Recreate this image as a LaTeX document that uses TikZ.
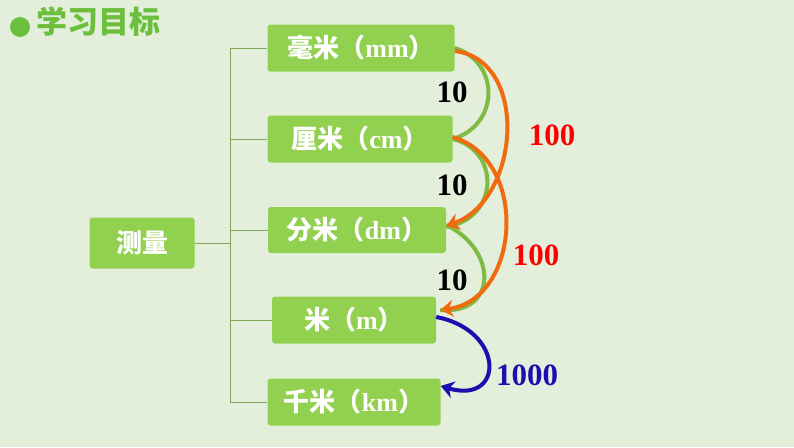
\documentclass[tikz,border=0pt]{standalone}
\usepackage{fontspec}
\setmainfont{Liberation Serif}
\newfontfamily\cjk{Noto Sans CJK SC}
\usetikzlibrary{arrows.meta}
\definecolor{bggreen}{HTML}{E3EFDA}
\definecolor{boxgreen}{HTML}{92D050}
\definecolor{titlegreen}{HTML}{6CBF3C}
\definecolor{arcgreen}{HTML}{7DBB45}
\definecolor{arcorange}{HTML}{F06A10}
\definecolor{arcblue}{HTML}{1A10B0}
\newcommand{\cn}[1]{{\cjk #1}}
\tikzset{
  unitbox/.style={fill=boxgreen, rounded corners=3pt, text=white, font=\bfseries\fontsize{26}{28}\selectfont, inner sep=0pt},
  num/.style={font=\bfseries\fontsize{31}{32}\selectfont},
  branch/.style={draw=arcgreen!70!gray, line width=0.6pt},
  greenarc/.style={draw=arcgreen, line width=4pt},
  orangearc/.style={draw=arcorange, line width=4pt, -{Stealth[length=13pt,width=17pt]}},
  bluearc/.style={draw=arcblue, line width=4pt, -{Stealth[length=13pt,width=17pt]}}
}
\begin{document}
\begin{tikzpicture}[x=1pt,y=-1pt]
  % background
  \fill[bggreen] (0,0) rectangle (794,447);
  \useasboundingbox (0,0) rectangle (794,447);

  % title
  \fill[titlegreen] (20,27) circle (10);
  \node[anchor=west, text=titlegreen, font=\cjk\bfseries\fontsize{31}{32}\selectfont, inner sep=0pt] (title) at (36,22) {学习目标};

  % boxes
  \node[unitbox, minimum width=105, minimum height=51] (measure) at (142,243) {\cn{测量}};
  \node[unitbox, minimum width=187, minimum height=47] (mm) at (361,48) {\cn{毫米（}mm\cn{）}};
  \node[unitbox, minimum width=185, minimum height=47] (cm) at (360,139) {\cn{厘米（}cm\cn{）}};
  \node[unitbox, minimum width=178, minimum height=46] (dm) at (357,230) {\cn{分米（}dm\cn{）}};
  \node[unitbox, minimum width=164, minimum height=47] (m) at (354,320) {\cn{米（}m\cn{）}};
  \node[unitbox, minimum width=173, minimum height=47] (km) at (354,402) {\cn{千米（}km\cn{）}};

  % tree
  \coordinate (top) at (230,48);
  \coordinate (bot) at (230,402);
  \draw[branch] (top) -- (bot);
  \draw[branch] (measure.east) -- (230,243);
  \foreach \u in {mm,cm,dm,m,km}
    \draw[branch] (230,0 |- \u.west) -- (\u.west);

  % conversion arcs
  \draw[greenarc] (mm.east) .. controls (500,62) and (500,125) .. (cm.east);
  \draw[greenarc] (cm.east) .. controls (500,150) and (500,218) .. ([yshift=3]dm.east);
  \draw[greenarc] ([yshift=5]dm.east) .. controls (498,250) and (498,315) .. ([xshift=4,yshift=10]m.east);
  \draw[orangearc] ([yshift=-3]mm.east) .. controls (530,60) and (520,200) .. ([yshift=4]dm.east);
  \draw[orangearc] ([yshift=2]cm.east) .. controls (530,160) and (520,300) .. ([xshift=4,yshift=10]m.east);
  \draw[bluearc] ([yshift=3]m.east) .. controls (505,330) and (505,405) .. ([yshift=16]km.east);

  % labels
  \node[num] (n1) at (452,92) {10};
  \node[num] (n2) at (452,185) {10};
  \node[num] (n3) at (452,280) {10};
  \node[num, text=red] (h1) at (552,135) {100};
  \node[num, text=red] (h2) at (536,255) {100};
  \node[num, text=arcblue] (k1) at (527,375) {1000};
\end{tikzpicture}
\end{document}
